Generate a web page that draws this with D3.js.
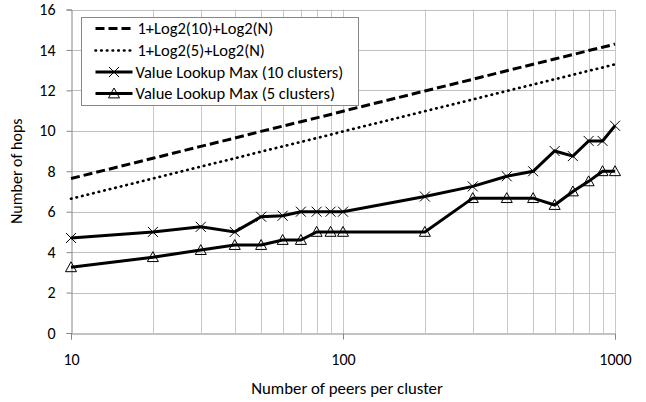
<!DOCTYPE html>
<html>
<head>
<meta charset="utf-8">
<script src="https://cdn.jsdelivr.net/npm/d3@7"></script>
<style>
  body { margin: 0; background: #fff; }
  text { font-family: Calibri, Carlito, "Open Sans", "Liberation Sans", sans-serif; fill: #000; }
</style>
</head>
<body>
<div class="chart"></div>
<script>
// peers per cluster (x)
var peers = [10, 20, 30, 40, 50, 60, 70, 80, 90, 100, 200, 300, 400, 500, 600, 700, 800, 900, 1000];

// values
var bound10 = [7.64, 8.64, 9.23, 9.64, 9.97, 10.23, 10.45, 10.64, 10.81, 10.97, 11.97, 12.55, 12.97, 13.29, 13.55, 13.77, 13.97, 14.13, 14.29];
var bound5 = [6.64, 7.64, 8.23, 8.64, 8.97, 9.23, 9.45, 9.64, 9.81, 9.97, 10.97, 11.55, 11.97, 12.29, 12.55, 12.77, 12.97, 13.13, 13.29];
var lookup10 = [4.7, 5.0, 5.25, 5.0, 5.75, 5.8, 6.0, 6.0, 6.0, 6.0, 6.75, 7.25, 7.75, 8.0, 9.0, 8.75, 9.5, 9.5, 10.25];
var lookup5 = [3.25, 3.75, 4.1, 4.35, 4.35, 4.6, 4.6, 5.0, 5.0, 5.0, 5.0, 6.67, 6.67, 6.67, 6.33, 7.0, 7.5, 8.0, 8.0];

var seriesNames = ["1+Log2(10)+Log2(N)", "1+Log2(5)+Log2(N)", "Value Lookup Max (10 clusters)", "Value Lookup Max (5 clusters)"];
var yTicks = [0, 2, 4, 6, 8, 10, 12, 14, 16];
var xTicks = [10, 100, 1000];

var width = 646, height = 402;
var margin = {top: 9.5, right: 31, bottom: 69, left: 71};

var svg = d3.select(".chart").append("svg")
    .attr("width", width)
    .attr("height", height);

var x = d3.scaleLog()
    .domain([10, 1000])
    .range([margin.left, width - margin.right]);

var y = d3.scaleLinear()
    .domain([0, 16])
    .range([height - margin.bottom, margin.top]);

// grid
var minor = [];
[10, 100].forEach(function(d) { for (var k = 2; k <= 10; k++) minor.push(d * k); });

svg.append("g").selectAll("line.vg")
    .data(minor)
  .enter().append("line")
    .attr("x1", function(d) { return Math.round(x(d)) + 0.5; })
    .attr("x2", function(d) { return Math.round(x(d)) + 0.5; })
    .attr("y1", y(0))
    .attr("y2", y(16))
    .style("stroke", "#c8c8c8")
    .style("stroke-width", 1);

svg.append("g").selectAll("line.hg")
    .data(yTicks.slice(1))
  .enter().append("line")
    .attr("x1", x(10))
    .attr("x2", x(1000))
    .attr("y1", function(d) { return Math.round(y(d)) + 0.5; })
    .attr("y2", function(d) { return Math.round(y(d)) + 0.5; })
    .style("stroke", "#bfbfbf")
    .style("stroke-width", 1);

// axes
var yAxis = svg.append("g")
    .attr("transform", "translate(" + (Math.round(x(10)) + 0.5) + ",0)")
    .call(d3.axisLeft(y).tickValues(yTicks).tickSize(5).tickPadding(11));

var xAxis = svg.append("g")
    .attr("transform", "translate(0," + (Math.round(y(0)) + 0.5) + ")")
    .call(d3.axisBottom(x).tickValues(xTicks).tickFormat(d3.format("d")).tickSize(6).tickPadding(14));

[yAxis, xAxis].forEach(function(a) {
  a.select(".domain").style("stroke", "#868686");
  a.selectAll(".tick line").style("stroke", "#868686");
  a.selectAll(".tick text").style("font-size", "16px");
});

svg.append("text")
    .attr("transform", "translate(22," + y(8) + ") rotate(-90)")
    .attr("text-anchor", "middle")
    .style("font-size", "16px")
    .text("Number of hops");

svg.append("text")
    .attr("x", 347)
    .attr("y", 394)
    .attr("text-anchor", "middle")
    .style("font-size", "16.8px")
    .text("Number of peers per cluster");

// lines
var allSeries = [bound10, bound5, lookup10, lookup5];
var dashes = ["9,4", "0.5,5.2", null, null];
var caps = ["butt", "round", "butt", "butt"];

var line = d3.line()
    .x(function(d, i) { return x(peers[i]); })
    .y(function(d) { return y(d); });

allSeries.forEach(function(s, k) {
  svg.append("path")
      .datum(s)
      .attr("d", line)
      .style("fill", "none")
      .style("stroke", "#000")
      .style("stroke-width", k == 1 ? 2.7 : 3)
      .style("stroke-linecap", caps[k])
      .style("stroke-dasharray", dashes[k]);
});

function crossPath(r) {
  return "M" + (-r) + "," + (-r) + "L" + r + "," + r + "M" + (-r) + "," + r + "L" + r + "," + (-r);
}
function triPath(r) {
  return "M0," + (-r) + "L" + r + "," + (r * 0.8) + "L" + (-r) + "," + (r * 0.8) + "Z";
}

svg.append("g").selectAll("path")
    .data(lookup10)
  .enter().append("path")
    .attr("transform", function(d, i) { return "translate(" + x(peers[i]) + "," + y(d) + ")"; })
    .attr("d", crossPath(5))
    .style("fill", "none")
    .style("stroke", "#000")
    .style("stroke-width", 1);

svg.append("g").selectAll("path")
    .data(lookup5)
  .enter().append("path")
    .attr("transform", function(d, i) { return "translate(" + x(peers[i]) + "," + y(d) + ")"; })
    .attr("d", triPath(5.5))
    .style("fill", "none")
    .style("stroke", "#000")
    .style("stroke-width", 1);

// legend
var legend = svg.append("g").attr("transform", "translate(81.5,17.5)");
legend.append("rect")
    .attr("width", 277)
    .attr("height", 88)
    .style("fill", "#fff")
    .style("stroke", "#868686");

var rowY = [11, 33, 54.5, 76];
seriesNames.forEach(function(name, k) {
  var g = legend.append("g").attr("transform", "translate(0," + rowY[k] + ")");
  g.append("line")
      .attr("x1", 14).attr("x2", 51)
      .style("stroke", "#000")
      .style("stroke-width", k == 1 ? 2.7 : 3)
      .style("stroke-linecap", caps[k])
      .style("stroke-dasharray", dashes[k]);
  if (k == 2) g.append("path").attr("transform", "translate(32.5,0)").attr("d", crossPath(5))
      .style("fill", "none").style("stroke", "#000").style("stroke-width", 1);
  if (k == 3) g.append("path").attr("transform", "translate(32.5,0)").attr("d", triPath(5.5))
      .style("fill", "none").style("stroke", "#000").style("stroke-width", 1);
  g.append("text")
      .attr("x", k < 2 ? 56 : 54)
      .attr("dy", "0.35em")
      .style("font-size", "16.5px")
      .text(name);
});
</script>
</body>
</html>
